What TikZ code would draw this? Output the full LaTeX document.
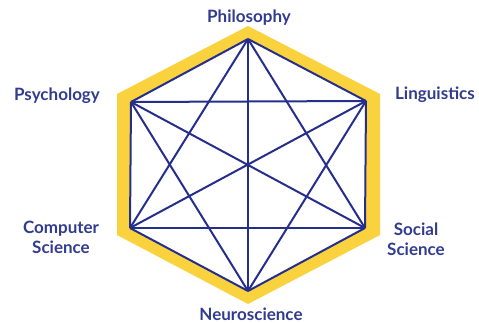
\documentclass[tikz,border=0pt]{standalone}
\usepackage{fontspec}
\setmainfont{Lato}
\usetikzlibrary{positioning}
\definecolor{hexblue}{RGB}{38,46,140}
\definecolor{labelblue}{RGB}{50,60,142}
\definecolor{hexyellow}{RGB}{250,210,62}

\begin{document}
\begin{tikzpicture}[x=1pt,y=-1pt,
    discipline/.style={font=\fontsize{17}{20}\selectfont\bfseries, text=labelblue, align=center, inner sep=0pt, anchor=base},
    link/.style={hexblue, line width=2pt, line join=miter}
  ]
  \useasboundingbox (0,0) rectangle (479,323);

  % corners of the hexagon
  \coordinate (phil) at (248,39);
  \coordinate (ling) at (366,101);
  \coordinate (soc) at (365,228);
  \coordinate (neuro) at (248,291);
  \coordinate (comp) at (130,228);
  \coordinate (psy) at (131,102);

  % yellow band
  \fill[hexyellow] (248,26) -- (380,94) -- (380,235) -- (248,304) -- (117,235) -- (117,94) -- cycle;
  \fill[white] (phil) -- (ling) -- (soc) -- (neuro) -- (comp) -- (psy) -- cycle;

  % every corner linked to every other
  \foreach \a/\b in {phil/ling, phil/soc, phil/neuro, phil/comp, phil/psy,
                     ling/soc, ling/neuro, ling/comp, ling/psy,
                     soc/neuro, soc/comp, soc/psy,
                     neuro/comp, neuro/psy, comp/psy}
    \draw[link] (\a) -- (\b);

  \node[discipline] (philLbl) at (249,23) {Philosophy};
  \node[discipline] (lingLbl) at (435,100) {Linguistics};
  \node[discipline] (socLbl) at (416,255) {Social\\Science};
  \node[discipline] (neuroLbl) at (251,320) {Neuroscience};
  \node[discipline] (compLbl) at (61,253) {Computer\\Science};
  \node[discipline] (psyLbl) at (57,101) {Psychology};
\end{tikzpicture}
\end{document}
